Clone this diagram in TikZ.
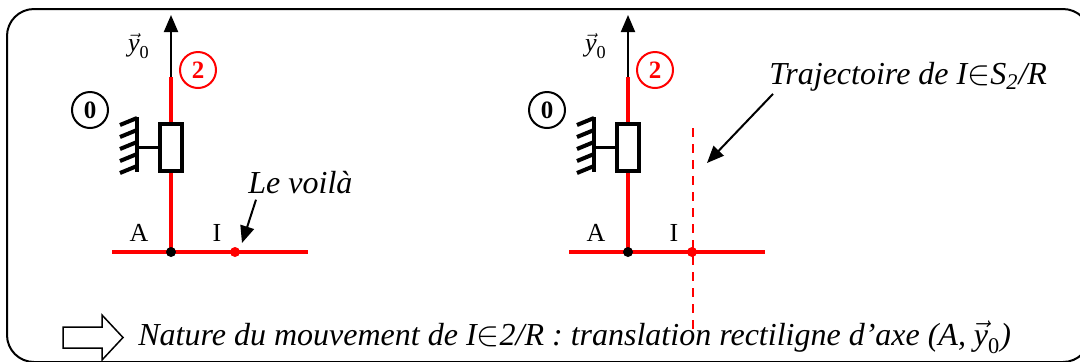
\documentclass[tikz,border=0pt]{standalone}
\usepackage{amsmath}
\usepackage{fontspec}
\setmainfont{Liberation Serif}
\usetikzlibrary{arrows.meta, positioning}

\newcommand{\yz}{$\vec{\text{\itshape y}}_{\text{\upshape 0}}$}

\begin{document}
\begin{tikzpicture}[x=0.5pt, y=-0.5pt,
  rouge/.style={red, line width=2.25pt},
  repere/.style={circle, draw, line width=1pt, minimum size=18pt, inner sep=0pt,
    font=\fontsize{12.5}{12.5}\selectfont\bfseries},
  lettre/.style={inner sep=1pt, font=\fontsize{13}{13}\selectfont},
  legende/.style={inner sep=1pt, font=\fontsize{16}{17}\selectfont\itshape},
  fleche/.style={-{Triangle[length=8.5pt,width=7pt]}, line width=1pt},
  point/.style={circle, fill, inner sep=0pt, minimum size=5pt}]
\useasboundingbox (0,0) rectangle (1080,361);
\draw[line width=1pt, rounded corners=13.5pt] (7,9) rectangle (1090,362);

% les deux glissieres
\foreach \dx/\n in {0/g, 457/d} {
\begin{scope}[shift={(\dx,0)}]
  \coordinate (A\n) at (171,252);
  \coordinate (I\n) at (235,252);
  \coordinate (haut\n) at (171,77);
  \coordinate (y\n) at (171,15);
  \coordinate (gauche\n) at (112,252);
  \coordinate (droite\n) at (308,252);
  \draw[fleche] (A\n) -- (y\n);
  \node[lettre] at (139,46) {\yz};
  \draw[rouge] (haut\n) -- (A\n);
  \draw[rouge] (gauche\n) -- (droite\n);
  \node[draw, line width=2pt, fill=white, inner sep=0pt,
    minimum width=11pt, minimum height=23.5pt] (glis\n) at (171,147.5) {};
  \coordinate (bati\n) at (137,147.5);
  \draw[line width=1.5pt] (glis\n.west) -- (bati\n);
  \draw[line width=2pt] (137,117) -- (137,172);
  \foreach \y in {118,130,142,154,166}
    \draw[line width=2pt] (137,\y) -- ++(-17,7);
  \node[point] at (A\n) {};
  \node[point, red] at (I\n) {};
  \node[lettre] at (139,233) {A};
  \node[lettre] at (217,233) {I};
  \node[repere, red] at (198,70) {2};
  \node[repere] at (90,110) {0};
\end{scope}
}

% legendes
\node[legende, anchor=west] (voila) at (246,183) {Le voilà};
\coordinate (cible) at (242,243);
\draw[fleche] ([xshift=5pt,yshift=-1.5pt]voila.south west) -- (cible);

\coordinate (trajhaut) at (693,128);
\coordinate (trajbas) at (693,332);
\draw[red, line width=1pt, dash pattern=on 4.5pt off 3.5pt] (trajhaut) -- (trajbas);
\node[legende, anchor=west] (traj) at (767,77)
  {Trajectoire de I$\in$S\textsubscript{2}/R};
\coordinate (ciblet) at (707,163);
\draw[fleche] ([xshift=3pt]traj.south west) -- (ciblet);

% conclusion
\draw[line width=0.75pt] (63,327) -- (102,327) -- (102,315) -- (123,337.5)
  -- (102,360) -- (102,348) -- (63,348) -- cycle;
\node[legende, anchor=west] (nature) at (136,337)
  {Nature du mouvement de I$\in$2/R : translation rectiligne d’axe (A, \yz)};
\end{tikzpicture}
\end{document}
